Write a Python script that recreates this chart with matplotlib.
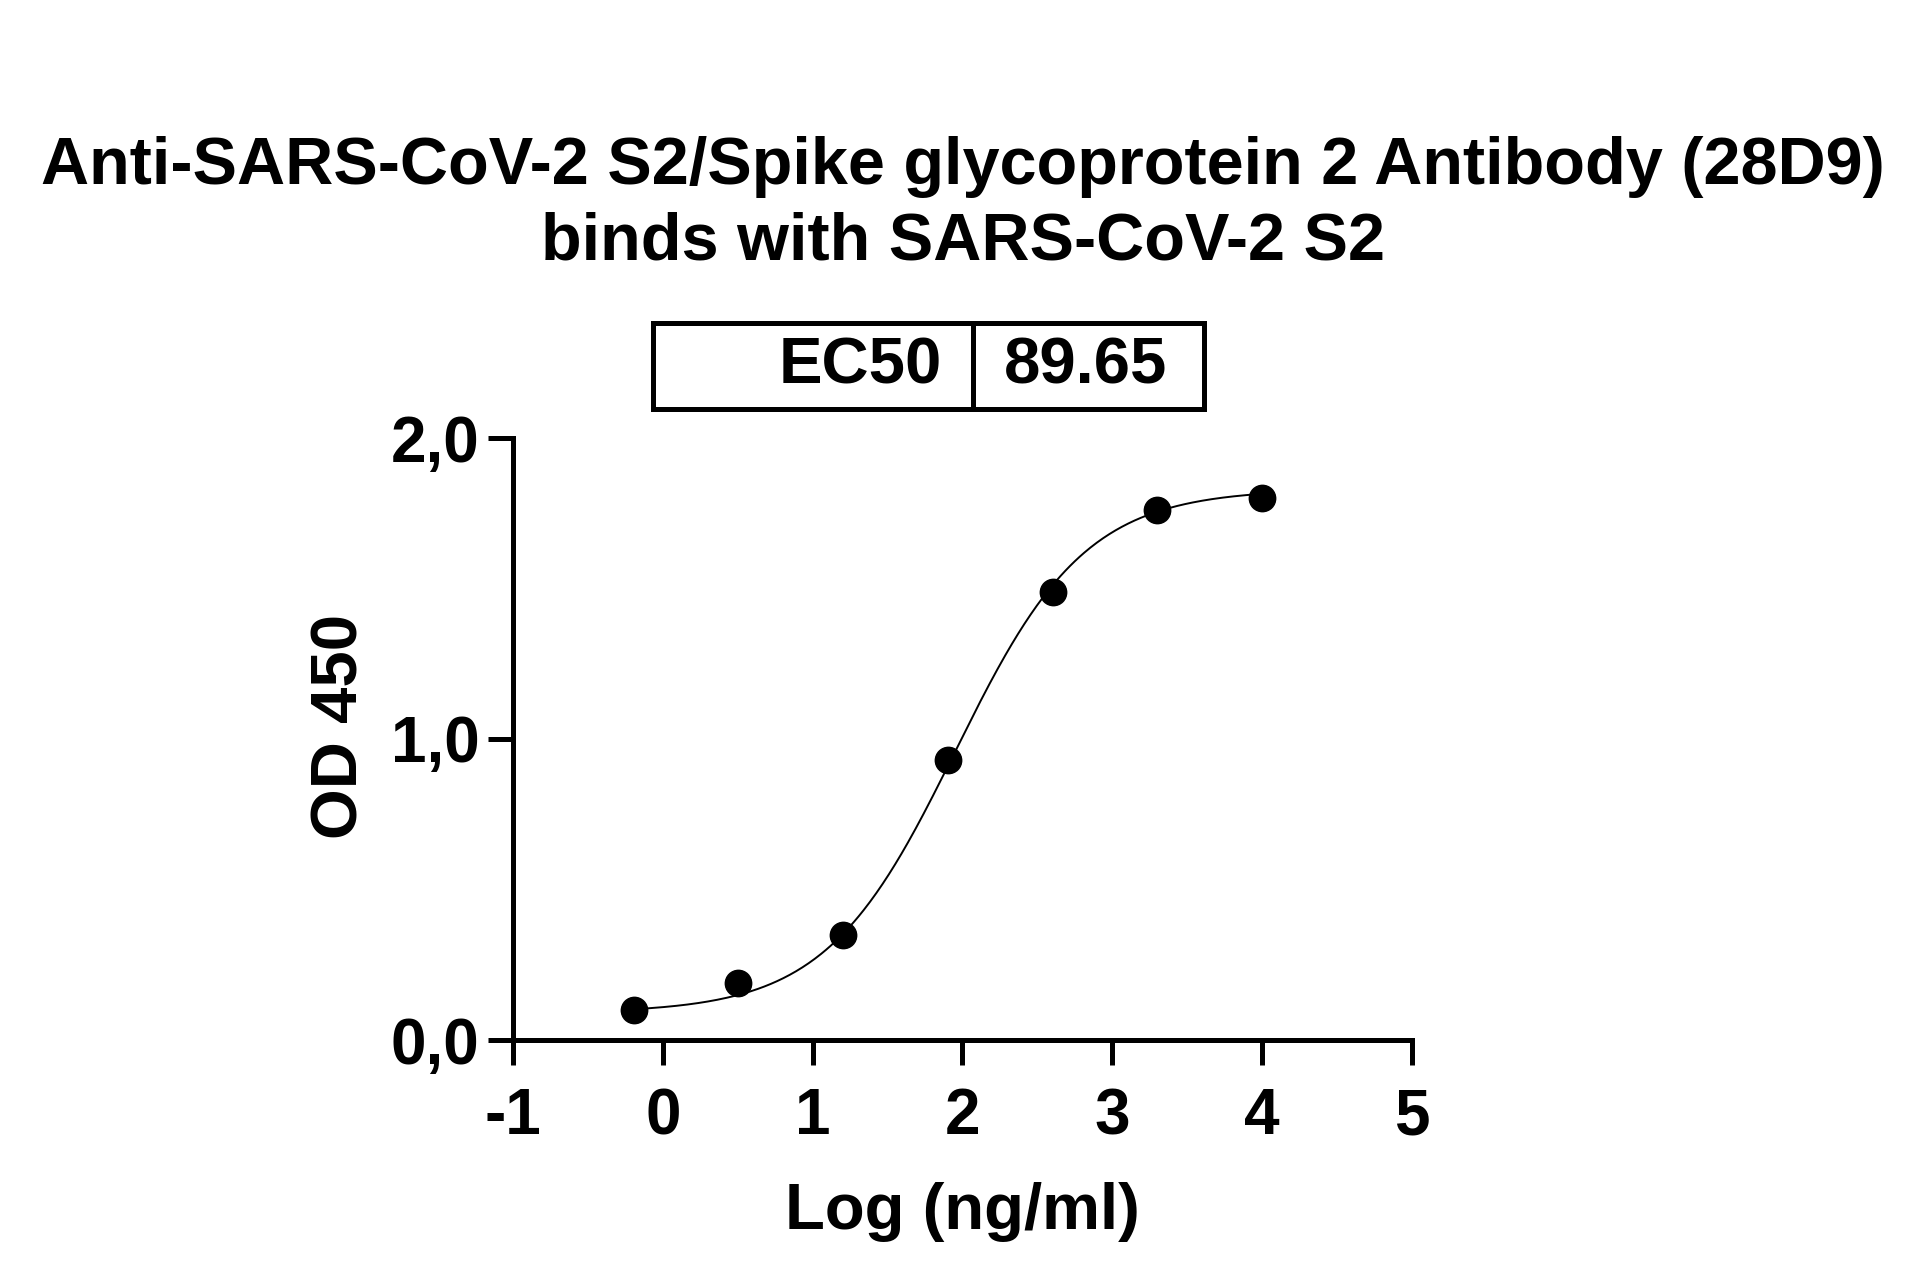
import numpy as np
import matplotlib
matplotlib.use("Agg")
import matplotlib.pyplot as plt

plt.rcParams['font.family'] = ['Liberation Sans', 'DejaVu Sans']
plt.rcParams['font.weight'] = 'bold'

# data (log10 of ng/ml, OD 450)
log_conc = [-0.194, 0.505, 1.204, 1.903, 2.602, 3.301, 4.0]
od450 = [0.10, 0.19, 0.35, 0.93, 1.49, 1.76, 1.80]

# 4PL fit parameters
ec50 = 89.65
bottom = 0.09
top = 1.83
hill = 1.0

x_ticks = [-1, 0, 1, 2, 3, 4, 5]
y_ticks = [0.0, 1.0, 2.0]
y_tick_labels = ['0,0', '1,0', '2,0']

W, H = 1926, 1286
fig = plt.figure(figsize=(W / 100, H / 100), dpi=100)

# title, two lines
fig.text(0.5, 1 - 184 / H, 'Anti-SARS-CoV-2 S2/Spike glycoprotein 2 Antibody (28D9)',
         ha='center', va='baseline', fontsize=48, fontweight='bold')
fig.text(0.5, 1 - 259 / H, 'binds with SARS-CoV-2 S2',
         ha='center', va='baseline', fontsize=48, fontweight='bold')

# EC50 box
bx = fig.add_axes([653 / W, 1 - 409 / H, (1204 - 653) / W, (409 - 323) / H])
bx.set_xlim(653, 1204)
bx.set_ylim(0, 1)
bx.set_xticks([])
bx.set_yticks([])
for s in bx.spines.values():
    s.set_linewidth(3.6)
bx.axvline(973, color='black', lw=3.6)
bx.text(942, 0.5, 'EC50', ha='right', va='center', fontsize=47, fontweight='bold')
bx.text(1086, 0.5, f'{ec50:.2f}', ha='center', va='center', fontsize=47, fontweight='bold')

# main plot
ax = fig.add_axes([513 / W, 1 - 1040 / H, (1412 - 513) / W, (1040 - 438) / H])
xs = np.linspace(min(log_conc), max(log_conc), 400)
fit = bottom + (top - bottom) / (1 + 10 ** ((np.log10(ec50) - xs) * hill))
ax.plot(xs, fit, color='black', lw=1.4, zorder=2)
ax.plot(log_conc, od450, 'o', color='black', ms=19, zorder=3, clip_on=False)

ax.set_xlim(-1, 5)
ax.set_ylim(0, 2)
ax.set_xticks(x_ticks)
ax.set_xticklabels([str(t) for t in x_ticks])
ax.set_yticks(y_ticks)
ax.set_yticklabels(y_tick_labels)
for side in ['top', 'right']:
    ax.spines[side].set_visible(False)
for side in ['left', 'bottom']:
    ax.spines[side].set_linewidth(3.6)
ax.tick_params(axis='both', length=18, width=3.6, labelsize=46)
ax.tick_params(axis='y', pad=6)
ax.tick_params(axis='x', pad=16)
for lab in ax.get_xticklabels() + ax.get_yticklabels():
    lab.set_fontweight('bold')

ax.set_xlabel('Log (ng/ml)', fontsize=47, fontweight='bold', labelpad=25)
ax.set_ylabel('OD 450', fontsize=47, fontweight='bold', labelpad=15)
ax.yaxis.label.set_y(0.52)

fig.savefig('out.png', dpi=100, facecolor='white')
